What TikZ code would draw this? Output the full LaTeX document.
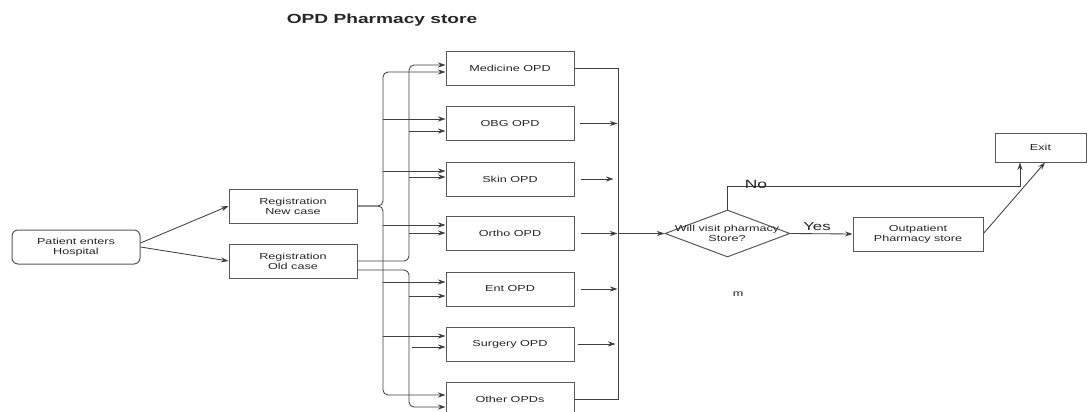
\documentclass[tikz,border=0pt]{standalone}
\usepackage{fontspec}
\setmainfont{Liberation Sans}[FakeStretch=1.45]
\usetikzlibrary{arrows.meta,shapes.geometric}
\begin{document}
\begin{tikzpicture}[x=1pt,y=-1pt,
  txt/.style={font=\fontsize{8.7}{9.8}\selectfont, text=black!85, align=center},
  box/.style={txt, draw=black!65, line width=1pt, minimum width=128pt, minimum height=34pt, inner sep=0pt},
  conn/.style={draw=black!75, line width=0.85pt},
  arr/.style={conn, -{Stealth[length=7.5pt,width=5pt]}},
  roundbend/.style={rounded corners=5pt}
]
\useasboundingbox (0,0) rectangle (1088,412);
\fill[white] (0,0) rectangle (1088,412);

% title
\node[font=\bfseries\fontsize{13.2}{15}\selectfont, text=black!85] (title) at (382,20) {OPD Pharmacy store};

% left boxes
\node[box, rounded corners=6pt] (pat) at (76,247) {Patient enters\\Hospital};
\node[box] (regnew) at (293,206) {Registration\\New case};
\node[box] (regold) at (293,261) {Registration\\Old case};

% OPD boxes
\node[box] (med) at (510,68.5) {Medicine OPD};
\node[box] (obg) at (510,123.5) {OBG OPD};
\node[box] (skin) at (510,179) {Skin OPD};
\node[box] (ort) at (510,233.5) {Ortho OPD};
\node[box] (ent) at (510,289) {Ent OPD};
\node[box] (sur) at (510,344) {Surgery OPD};
\node[box] (oth) at (510,399) {Other OPDs};

% decision and right part
\node[draw=black!65, line width=1pt, diamond, minimum width=125pt, minimum height=47pt, inner sep=0pt] (dec) at (727.5,233.5) {};
\node[txt] (dectext) at (727,233) {Will visit pharmacy\\Store?};
\node[box, minimum width=130pt] (outp) at (918,234) {Outpatient\\Pharmacy store};
\node[box, minimum width=91pt, minimum height=29pt] (exit) at (1040.5,147.5) {Exit};

% patient -> registration
\draw[arr] ([yshift=4pt]pat.east) -- (regnew.west);
\draw[arr] ([yshift=0pt]pat.east) -- (regold.west);

% new case bus (x=383)
\draw[arr, roundbend] (regnew.east) -| (383,72) -- (med.west |- 0,72);
\draw[arr, roundbend] (regnew.east) -| (383,395) -- (oth.west |- 0,395);
\draw[arr] (383,119) -- (obg.west |- 0,119);
\draw[arr] (383,171) -- (skin.west |- 0,171);
\draw[arr] (383,225) -- (ort.west |- 0,225);
\draw[arr] (383,282) -- (ent.west |- 0,282);
\draw[arr] (383,336) -- (sur.west |- 0,336);

% old case bus (x=409)
\draw[arr, roundbend] (regold.east) -| (409,65) -- (med.west |- 0,65);
\draw[arr, roundbend] ([yshift=-9pt]regold.east) -| (409,407) -- (oth.west |- 0,407);
\draw[arr] (409,131) -- (obg.west |- 0,131);
\draw[arr] (409,177) -- (skin.west |- 0,177);
\draw[arr] (409,233) -- (ort.west |- 0,233);
\draw[arr] (409,296) -- (ent.west |- 0,296);
\draw[arr] (412,347) -- (sur.west |- 0,347);

% output bus (x=618)
\draw[conn] (med.east) -- (med.east -| 618,0) -- (oth.east -| 618,0) -- (oth.east);
\draw[arr] ([xshift=5pt]obg.east) -- ([xshift=43pt]obg.east);
\draw[arr] ([xshift=6pt]skin.east) -- ([xshift=39pt]skin.east);
\draw[arr] ([xshift=6pt]ort.east) -- ([xshift=43pt]ort.east);
\draw[arr] ([xshift=6pt]ent.east) -- ([xshift=43pt]ent.east);
\draw[arr] ([xshift=3pt]sur.east) -- ([xshift=41pt]sur.east);
\draw[arr] (ort.east -| 618,0) -- (dec.west);

% decision branches
\draw[arr] (dec.east) -- (outp.west);
\node[font=\fontsize{11.6}{13}\selectfont, text=black!85] (yeslab) at (817,227) {Yes};
\draw[arr] (dec.north) |- (1020,186) -- (exit.south -| 1020,0);
\node[font=\fontsize{12}{14}\selectfont, text=black!85] (nolab) at (756,184.5) {No};
\draw[arr] ([yshift=0.5pt]outp.east) -- ([xshift=4.5pt]exit.south);

\node[txt] (mlab) at (738,294) {m};
\end{tikzpicture}
\end{document}
